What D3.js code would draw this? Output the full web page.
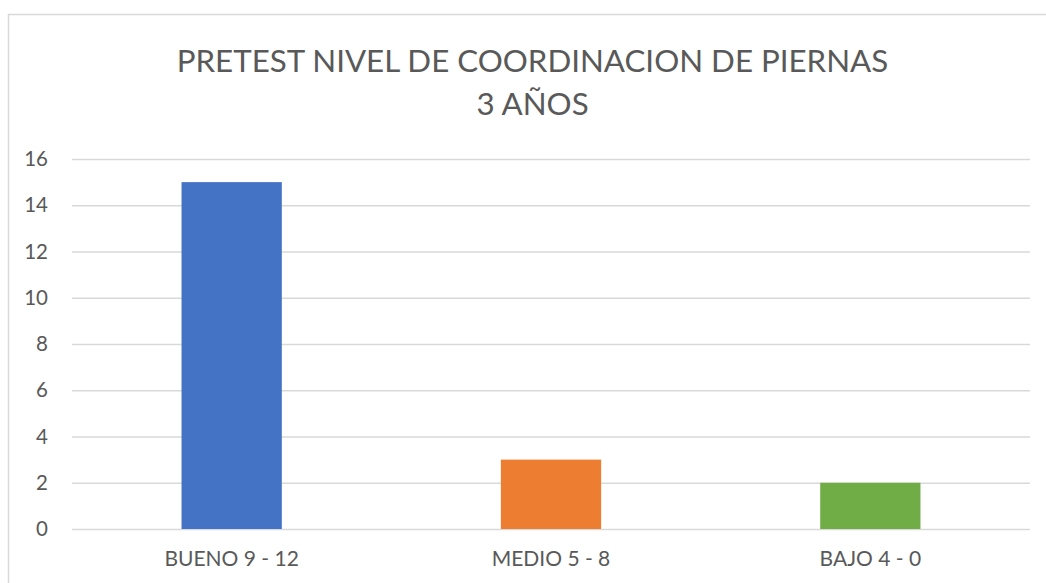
<!DOCTYPE html>
<html>
<head>
<meta charset="utf-8">
<script src="https://cdn.jsdelivr.net/npm/d3@7"></script>
<style>
  body { margin: 0; background: #fff; }
  text { font-family: Lato, "Noto Sans", sans-serif; fill: #595959; }
</style>
</head>
<body>
<div class="chart"></div>
<script>
// Data
const categories = ["BUENO 9 - 12", "MEDIO 5 - 8", "BAJO 4 - 0"];
const values = [15, 3, 2];
const barColors = ["#4472C4", "#ED7D31", "#70AD47"];
const yTicks = [0, 2, 4, 6, 8, 10, 12, 14, 16];
const titleLines = ["PRETEST NIVEL DE COORDINACION DE PIERNAS", "3 AÑOS"];

const W = 1046;
const H = 583;
const margin = { top: 159, right: 16, bottom: 54, left: 72 };
const width = W - margin.left - margin.right;
const height = H - margin.top - margin.bottom;

const svg = d3
  .select(".chart")
  .append("svg")
  .attr("width", W)
  .attr("height", H);

// chart border
svg
  .append("rect")
  .attr("x", 8.5)
  .attr("y", 14.5)
  .attr("width", W)
  .attr("height", H)
  .attr("fill", "none")
  .attr("stroke", "#d9d9d9")
  .attr("stroke-width", 1.5);

// title
svg
  .append("g")
  .selectAll("text")
  .data(titleLines)
  .enter()
  .append("text")
  .attr("x", 532.5)
  .attr("y", (d, i) => 71.5 + i * 43)
  .attr("text-anchor", "middle")
  .attr("font-size", 31.3)
  .text((d) => d);

const g = svg
  .append("g")
  .attr("transform", `translate(${margin.left},${margin.top})`);

const xScale = d3
  .scaleBand()
  .domain(categories)
  .range([0, width])
  .paddingInner(0.686)
  .paddingOuter(0.343);

const yScale = d3.scaleLinear().domain([0, 16]).range([height, 0]);

// gridlines + y labels
const yAxis = d3
  .axisLeft(yScale)
  .tickValues(yTicks)
  .tickSize(0)
  .tickPadding(24);

const yAxisG = g.append("g").attr("class", "axis y-axis").call(yAxis);
yAxisG.select(".domain").remove();
yAxisG
  .selectAll("text")
  .attr("font-size", 20.5)
  .attr("font-family", "Lato, 'Noto Sans', sans-serif")
  .attr("fill", "#595959");
yAxisG
  .selectAll(".tick")
  .append("line")
  .attr("x1", 0)
  .attr("x2", width)
  .attr("stroke", "#d9d9d9")
  .attr("stroke-width", 1.5);

// bars
g.append("g")
  .selectAll("rect")
  .data(values)
  .enter()
  .append("rect")
  .attr("x", (d, i) => xScale(categories[i]))
  .attr("y", (d) => yScale(d))
  .attr("width", xScale.bandwidth())
  .attr("height", (d) => height - yScale(d))
  .attr("fill", (d, i) => barColors[i]);

// x labels
const xAxis = d3.axisBottom(xScale).tickSize(0).tickPadding(22);
const xAxisG = g
  .append("g")
  .attr("class", "axis x-axis")
  .attr("transform", `translate(0,${height})`)
  .call(xAxis);
xAxisG.select(".domain").remove();
xAxisG
  .selectAll("text")
  .attr("font-size", 21)
  .attr("font-family", "Lato, 'Noto Sans', sans-serif")
  .attr("fill", "#595959");
</script>
</body>
</html>
